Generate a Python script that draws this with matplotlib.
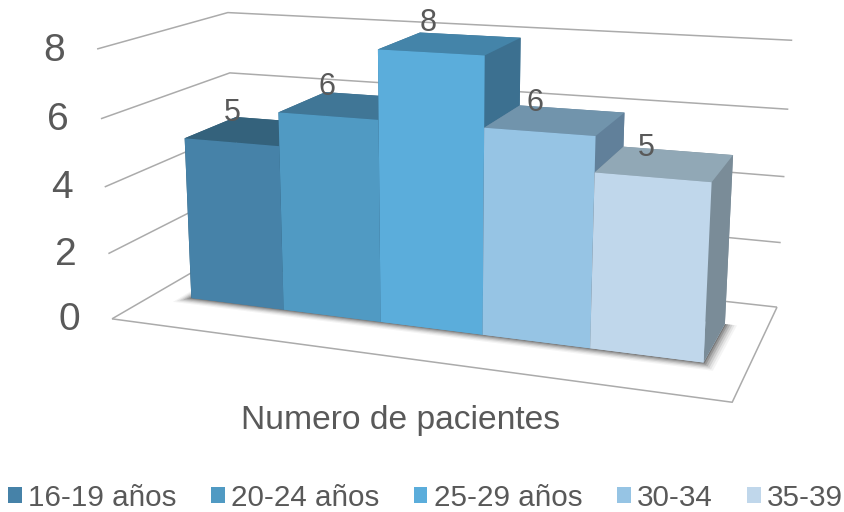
import numpy as np
import matplotlib
matplotlib.use("Agg")
import matplotlib.pyplot as plt
from matplotlib.patches import Patch
from mpl_toolkits.mplot3d.art3d import Poly3DCollection, Line3DCollection

plt.rcParams['font.family'] = ['Liberation Sans', 'DejaVu Sans']

# ---- data ----
series_names = ['16-19 años', '20-24 años', '25-29 años', '30-34', '35-39']
values = [5, 6, 8, 6, 5]
z_ticks = [0, 2, 4, 6, 8]
axis_title = 'Numero de pacientes'

# ---- style ----
front_colors = ['#4682A8', '#509AC3', '#5BADDB', '#96C4E4', '#C0D7EB']
top_colors = ['#34627C', '#407696', '#4484A9', '#7194AC', '#91A8B6']
side_colors = ['#2F5A72', '#39698A', '#3C7090', '#61809A', '#7A8C98']
legend_colors = front_colors
text_color = '#595959'
grid_color = '#ABABAB'

W, H = 844, 512
FRAME_X = (-0.40, 5.38)
BAR_Y = (0.32, 0.74)

# Camera calibration: scene point (x, y, z) -> picture pixel
calib = [
    (FRAME_X[0], 0, 0, 114, 319), (FRAME_X[0], 0, 2, 110, 254), (FRAME_X[0], 0, 4, 105, 187),
    (FRAME_X[0], 0, 6, 102, 118), (FRAME_X[0], 0, 8, 97, 47),
    (FRAME_X[1], 1, 0, 777, 306), (FRAME_X[1], 1, 2, 781, 242), (FRAME_X[1], 1, 4, 785, 176),
    (FRAME_X[1], 1, 6, 789, 109), (FRAME_X[1], 1, 8, 793, 41),
    (FRAME_X[0], 1, 8, 230, 11.5), (FRAME_X[0], 1, 6, 231, 72), (FRAME_X[1], 0, 0, 733, 400),
    (0, BAR_Y[0], 0, 189, 300), (0, BAR_Y[0], 5, 182, 138), (1, BAR_Y[0], 0, 282, 311),
    (1, BAR_Y[0], 6, 277, 113), (2, BAR_Y[0], 8, 378, 49), (3, BAR_Y[0], 8, 485, 55),
    (3, BAR_Y[1], 8, 519, 40), (2, BAR_Y[1], 8, 418, 33), (4, BAR_Y[0], 5, 595, 173),
    (5, BAR_Y[0], 5, 712, 183), (5, BAR_Y[0], 0, 704, 363), (5, BAR_Y[1], 5, 732, 157),
    (5, BAR_Y[1], 0, 724, 323), (4, BAR_Y[0], 0, 591, 348),
]

fig = plt.figure(figsize=(W / 100, H / 100), dpi=100)
# a square 3D axes larger than the figure, so the whole canvas is inside it
ax = fig.add_axes([0, -(W - H) / 2 / H, 1, W / H], projection='3d')
ax.set_axis_off()
ax.computed_zorder = False
ax.apply_aspect()


def camera_matrix():
    inv = ax.transData.inverted()
    rows = []
    for x, y, z, px, py in calib:
        vx, vy = inv.transform((px, H - py))
        rows.append([x, y, z, 1, 0, 0, 0, 0, -vx * x, -vx * y, -vx * z, -vx])
        rows.append([0, 0, 0, 0, x, y, z, 1, -vy * x, -vy * y, -vy * z, -vy])
    P = np.linalg.svd(np.array(rows))[2][-1].reshape(3, 4)
    if P[2] @ np.array([2.5, 0.5, 4, 1]) < 0:
        P = -P
    c = 0.5 * P[2] @ np.array([2.5, 0.5, 4, 1])
    return np.vstack([P[0], P[1], P[2] - np.array([0, 0, 0, c]), P[2]])


M = camera_matrix()
ax.get_proj = lambda: M


def to_pixel(x, y, z):
    v = M @ np.array([x, y, z, 1.0])
    dx, dy = ax.transData.transform((v[0] / v[3], v[1] / v[3]))
    return dx, H - dy


# ---- frame and gridlines ----
x0, x1 = FRAME_X
segments = []
for z in z_ticks:
    segments.append([(x0, 0, z), (x0, 1, z), (x1, 1, z)])
segments.append([(x0, 0, 0), (x1, 0, 0), (x1, 1, 0)])
lines = Line3DCollection(segments, colors=grid_color, linewidths=1.1, zorder=1)
ax.add_collection3d(lines, autolim=False)

# ---- soft floor shadow ----
n = len(values)
for grow, alpha in [(0.11, 0.05), (0.09, 0.08), (0.07, 0.12), (0.05, 0.16), (0.03, 0.22), (0.012, 0.30)]:
    y_a, y_b = BAR_Y[0] - grow * 0.6, BAR_Y[1]
    quad = [[(-grow, y_a, 0), (n + grow, y_a, 0), (n + grow, y_b, 0), (-grow, y_b, 0)]]
    ax.add_collection3d(Poly3DCollection(quad, facecolors='#303030', edgecolors='none',
                                         alpha=alpha, zorder=2), autolim=False)

# ---- bars ----
for i, v in enumerate(values):
    # face order of bar3d: bottom, top, front, back, left, right
    colors = [front_colors[i], top_colors[i], front_colors[i],
              side_colors[i], side_colors[i], side_colors[i]]
    ax.bar3d(i, BAR_Y[0], 0, 1, BAR_Y[1] - BAR_Y[0], v, color=colors,
             shade=False, edgecolor='none', linewidth=0, zorder=3 + i)
    px, py = to_pixel(i + 0.5, BAR_Y[0], v)
    fig.text((px + 1 - 1.75 * i) / W, 1 - (py - 29) / H, str(v), ha='center', va='center',
             fontsize=22, color=text_color)

# ---- value-axis tick labels ----
for z in z_ticks:
    px, py = to_pixel(x0, 0, z)
    fig.text((px - 32) / W, 1 - (py + 1.5) / H, str(z), ha='right', va='center', fontsize=28,
             color=text_color)

fig.text(400.5 / W, 1 - 420 / H, axis_title, ha='center', va='center', fontsize=24.2, color=text_color)

handles = [Patch(facecolor=c, edgecolor='none', label=s) for c, s in zip(legend_colors, series_names)]
fig.legend(handles=handles, loc='center', bbox_to_anchor=(425.5 / W, 1 - 497.5 / H), ncol=5, frameon=False,
           fontsize=21.3, labelcolor=text_color, handlelength=0.47, handleheight=0.47,
           handletextpad=0.22, columnspacing=1.15, borderpad=0, borderaxespad=0)

fig.savefig('out.png', dpi=100)
